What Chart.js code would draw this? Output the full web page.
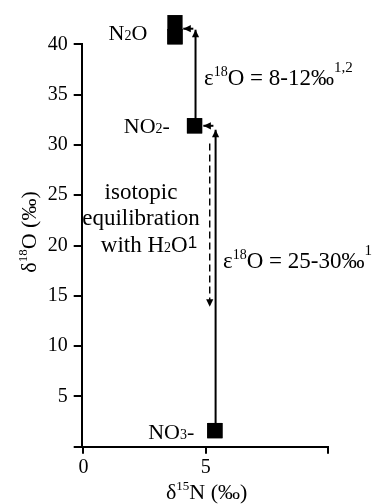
<!DOCTYPE html>
<html>
<head>
<meta charset="utf-8">
<script src="https://cdn.jsdelivr.net/npm/chart.js@4.4.1/dist/chart.umd.min.js"></script>
<style>
  html, body { margin: 0; padding: 0; background: #fff; }
</style>
</head>
<body>
<canvas id="isoChart" width="381" height="504"></canvas>
<script>
// Nitrogen species (N2O spans a small range, so it gets two squares)
const species = ['N2O', 'N2O', 'NO2-', 'NO3-'];
const d15N = [3.74, 3.74, 4.54, 5.37];
const d18O = [42.15, 40.75, 31.9, 1.6];

// Arrows in delta units: [d15N pair], [d18O pair]
const reductionN = [5.40, 5.40];
const reductionO = [1.6, 31.5];
const nitriteTipN = [5.31, 4.90];
const nitriteTipO = [31.9, 31.9];
const n2oStemN = [4.58, 4.58];
const n2oStemO = [31.9, 41.45];
const n2oTipN = [4.49, 4.08];
const n2oTipO = [41.55, 41.55];
const exchangeN = [5.16, 5.16];
const exchangeO = [30.15, 13.9];

const xTicks = [0, 5, 10];
const xTickLabels = ['0', '5', ''];
const yTicks = [0, 5, 10, 15, 20, 25, 30, 35, 40];
const yTickLabels = ['', '5', '10', '15', '20', '25', '30', '35', '40'];

const SERIF = '"Liberation Serif", "Times New Roman", serif';
const SANS = '"Liberation Sans", Arial, sans-serif';

const toPoints = (ns, os) => ns.map((n, i) => ({ x: n, y: os[i] }));

function arrowSet(ns, os, dashed) {
    return {
        data: toPoints(ns, os),
        showLine: true,
        borderColor: '#000',
        borderWidth: dashed ? 1.4 : 2,
        borderDash: dashed ? [7, 4] : [],
        pointRadius: 0,
        clip: false,
        arrow: true
    };
}

// parts: [text, size, rise, family]
function drawRich(ctx, parts, x, y, align) {
    let w = 0;
    parts.forEach(p => {
        ctx.font = p[1] + 'px ' + (p[3] || SERIF);
        w += ctx.measureText(p[0]).width;
    });
    let cx = align === 'right' ? x - w : align === 'center' ? x - w / 2 : x;
    ctx.textAlign = 'left';
    ctx.textBaseline = 'alphabetic';
    ctx.fillStyle = '#000';
    parts.forEach(p => {
        ctx.font = p[1] + 'px ' + (p[3] || SERIF);
        ctx.fillText(p[0], cx, y - (p[2] || 0));
        cx += ctx.measureText(p[0]).width;
    });
}

const annotations = {
    id: 'annotations',
    afterDatasetsDraw(chart) {
        const ctx = chart.ctx;
        const xs = chart.scales.x;
        const ys = chart.scales.y;

        // squares above the top of the axis are skipped by the default draw
        const everywhere = { left: -1e4, top: -1e4, right: 1e4, bottom: 1e4 };
        chart.data.datasets.forEach((ds, i) => {
            if (ds.label === 'species') {
                chart.getDatasetMeta(i).data.forEach(el => el.draw(ctx, everywhere));
            }
        });

        // arrowheads at the end of every arrow dataset
        chart.data.datasets.forEach((ds, i) => {
            if (!ds.arrow) return;
            const pts = chart.getDatasetMeta(i).data;
            const a = pts[pts.length - 2];
            const b = pts[pts.length - 1];
            const ang = Math.atan2(b.y - a.y, b.x - a.x);
            ctx.save();
            ctx.translate(b.x, b.y);
            ctx.rotate(ang);
            ctx.beginPath();
            ctx.moveTo(0, 0);
            ctx.lineTo(-7.5, -3.6);
            ctx.lineTo(-7.5, 3.6);
            ctx.closePath();
            ctx.fillStyle = '#000';
            ctx.fill();
            ctx.restore();
        });

        ctx.save();
        // species names, left of their squares
        const sq = 7.6;
        drawRich(ctx, [['N', 22], ['2', 14], ['O', 22]],
            xs.getPixelForValue(d15N[0]) - sq - 20, ys.getPixelForValue(n2oStemO[1]) + 10.7, 'right');
        drawRich(ctx, [['NO', 22], ['2', 14], ['-', 22]],
            xs.getPixelForValue(d15N[2]) - sq - 17, ys.getPixelForValue(d18O[2]) + 7.5, 'right');
        drawRich(ctx, [['NO', 22], ['3', 14], ['-', 22]],
            xs.getPixelForValue(d15N[3]) - sq - 13, ys.getPixelForValue(d18O[3]) + 8.5, 'right');

        // fractionation factors
        drawRich(ctx, [['\u03b5', 23], ['18', 14, 9], ['O = 8-12\u2030', 23], ['1,2', 15, 13]],
            xs.getPixelForValue(n2oStemN[0]) + 8.5, 84.5, 'left');
        drawRich(ctx, [['\u03b5', 23], ['18', 14, 9], ['O = 25-30\u2030', 23], ['1', 15, 13]],
            xs.getPixelForValue(reductionN[0]) + 7.5, 268, 'left');

        // exchange note
        drawRich(ctx, [['isotopic', 23]], 141, 198.5, 'center');
        drawRich(ctx, [['equilibration', 23]], 141, 225, 'center');
        drawRich(ctx, [['with H', 23], ['2', 14], ['O', 23], ['1', 17, 4, SANS]], 149, 251.5, 'center');

        // axis titles
        drawRich(ctx, [['\u03b4', 22], ['15', 13, 9], ['N (\u2030)', 22]], 206.7, 499, 'center');
        ctx.translate(36, 232);
        ctx.rotate(-Math.PI / 2);
        drawRich(ctx, [['\u03b4', 22], ['18', 13, 9], ['O (\u2030)', 22]], 0, 0, 'center');
        ctx.restore();
    }
};

const axisGrid = { drawOnChartArea: false, drawTicks: true, color: '#000', lineWidth: 2 };
const tickFont = { family: SERIF, size: 20 };

new Chart(document.getElementById('isoChart'), {
    type: 'scatter',
    data: {
        datasets: [
            arrowSet(reductionN, reductionO, false),
            arrowSet(nitriteTipN, nitriteTipO, false),
            arrowSet(n2oStemN, n2oStemO, false),
            arrowSet(n2oTipN, n2oTipO, false),
            arrowSet(exchangeN, exchangeO, true),
            {
                label: 'species',
                data: toPoints(d15N, d18O),
                pointStyle: 'rect',
                pointRadius: 10.8,
                backgroundColor: '#000',
                borderColor: '#000',
                borderWidth: 0,
                showLine: false,
                clip: false
            }
        ]
    },
    options: {
        responsive: false,
        animation: false,
        events: [],
        layout: { padding: { left: 0, top: 44.3, right: 52.8, bottom: 0 } },
        plugins: { legend: { display: false }, tooltip: { enabled: false } },
        scales: {
            x: {
                type: 'linear',
                min: -0.07,
                max: 10,
                afterFit: s => { s.height = 57.3; },
                afterBuildTicks: s => { s.ticks = xTicks.map(v => ({ value: v })); },
                ticks: { callback: (v, i) => xTickLabels[i], font: tickFont, color: '#000', padding: 2, maxRotation: 0 },
                grid: Object.assign({ tickLength: 7 }, axisGrid),
                border: { display: true, color: '#000', width: 2 }
            },
            y: {
                type: 'linear',
                min: 0,
                max: 40,
                afterFit: s => { s.width = 81.7; },
                afterBuildTicks: s => { s.ticks = yTicks.map(v => ({ value: v })); },
                ticks: { callback: (v, i) => yTickLabels[i], font: tickFont, color: '#000', padding: 6 },
                grid: Object.assign({ tickLength: 8 }, axisGrid),
                border: { display: true, color: '#000', width: 2 }
            }
        }
    },
    plugins: [annotations]
});
</script>
</body>
</html>
